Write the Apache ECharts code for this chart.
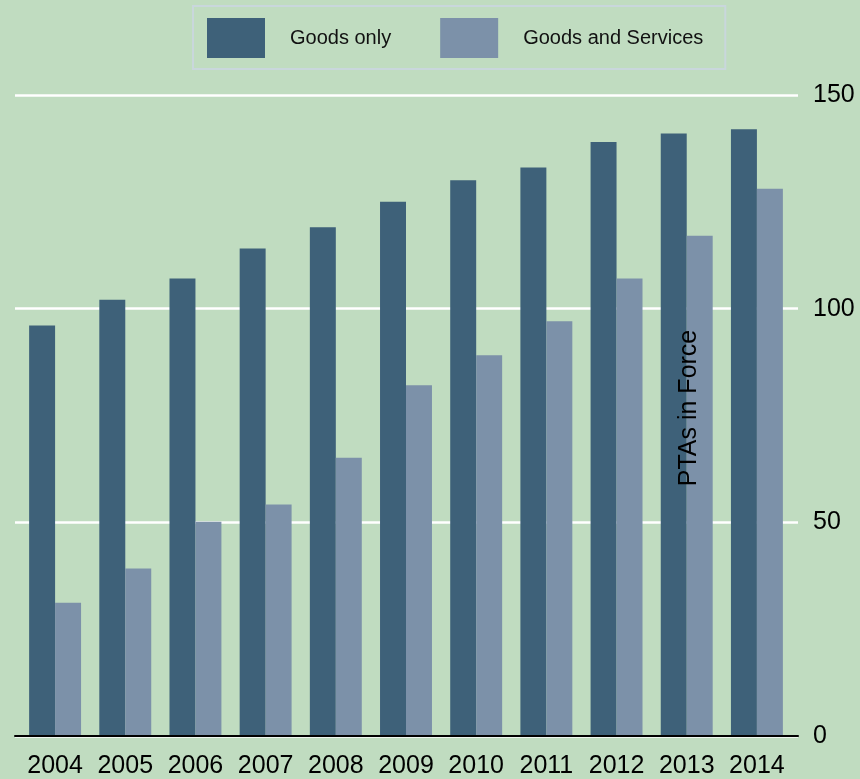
<!DOCTYPE html>
<html><head><meta charset="utf-8">
<script src="https://cdn.jsdelivr.net/npm/echarts@6/dist/echarts.min.js"></script>
<style>html,body{margin:0;padding:0;background:#c0dcc0;}#c{width:860px;height:779px;}</style>
</head><body><div id="c"></div>
<script>
const years = ['2004','2005','2006','2007','2008','2009','2010','2011','2012','2013','2014'];
const goodsOnly = [96, 102, 107, 114, 119, 125, 130, 133, 139, 141, 142];
const goodsServices = [31, 39, 50, 54, 65, 82, 89, 97, 107, 117, 128];
const seriesNames = ['Goods only', 'Goods and Services'];
const yTicks = [0, 50, 100, 150];
const yName = 'PTAs in Force';

const chart = echarts.init(document.getElementById('c'));
chart.setOption({
  backgroundColor: '#c0dcc0',
  animation: false,
  textStyle: {fontFamily: 'Liberation Sans, Arial, sans-serif'},
  legend: {
    data: seriesNames,
    left: 193, top: 6,
    padding: [12, 22, 11, 14],
    itemWidth: 58, itemHeight: 40,
    itemGap: 49,
    borderColor: '#c9d7dc', borderWidth: 2,
    icon: 'rect',
    textStyle: {fontSize: 20, color: '#111', padding: [0, 0, 0, 20]}
  },
  grid: [
    {left: 20, right: 68, top: 95, bottom: 43},
    {left: 15, right: 62, top: 95, bottom: 43}
  ],
  xAxis: [
    {
      type: 'category', data: years, gridIndex: 0,
      axisLine: {show: false},
      axisTick: {show: false},
      axisLabel: {fontSize: 25, color: '#000', margin: 19, interval: 0}
    },
    {
      type: 'value', gridIndex: 1, min: 0, max: 1,
      axisLine: {show: true, onZero: false, lineStyle: {color: '#000', width: 2}},
      axisTick: {show: false}, axisLabel: {show: false}, splitLine: {show: false}
    }
  ],
  yAxis: [
    {
      type: 'value', gridIndex: 0, position: 'right', min: 0, max: 150, interval: 50,
      axisLine: {show: false}, axisTick: {show: false},
      axisLabel: {show: false}, splitLine: {show: false}
    },
    {
      type: 'value', gridIndex: 1, position: 'right', min: 0, max: 150, interval: 50,
      axisLine: {show: false}, axisTick: {show: false},
      axisLabel: {fontSize: 25, color: '#000', margin: 15, formatter: v => yTicks.includes(v) ? String(v) : ''},
      splitLine: {lineStyle: {color: '#ffffff', width: 2.5}}
    },
    {
      type: 'value', gridIndex: 0, position: 'right', min: 0, max: 150, z: 10,
      name: yName, nameLocation: 'middle', nameGap: -115,
      nameTextStyle: {fontSize: 25, color: '#000', padding: [0, 0, 0, 14]},
      axisLine: {show: false}, axisTick: {show: false},
      axisLabel: {show: false}, splitLine: {show: false}
    }
  ],
  series: [
    {name: seriesNames[0], type: 'bar', data: goodsOnly, barGap: '0%', barCategoryGap: '26%',
     xAxisIndex: 0, yAxisIndex: 0, itemStyle: {color: '#3e6179'}},
    {name: seriesNames[1], type: 'bar', data: goodsServices,
     xAxisIndex: 0, yAxisIndex: 0, itemStyle: {color: '#7c91a9'}}
  ]
});
</script></body></html>
